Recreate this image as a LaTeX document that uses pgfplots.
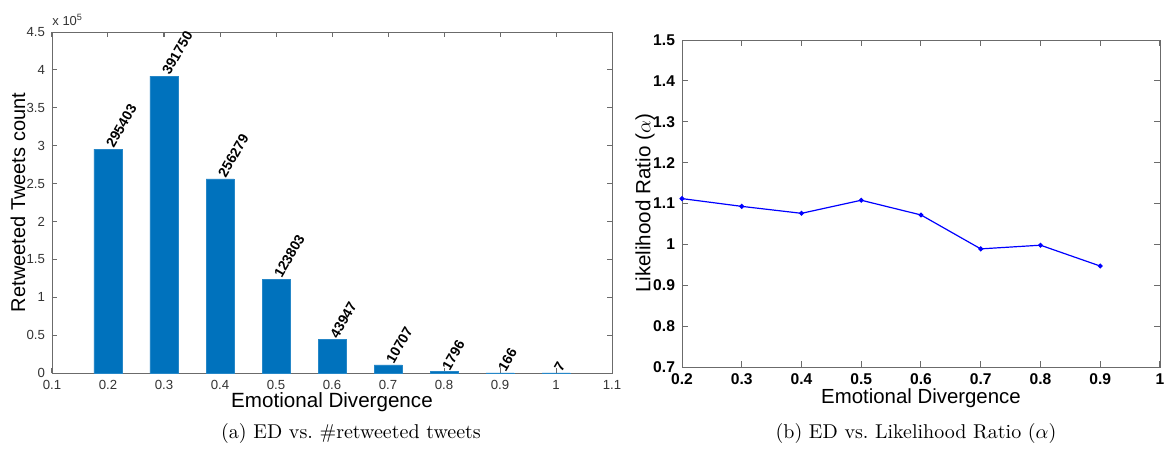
\documentclass[border=0pt]{standalone}
\usepackage{fontspec}
\usepackage{pgfplots}
\pgfplotsset{compat=1.18}
\newfontfamily\arial{Liberation Sans}
\definecolor{mbar}{rgb}{0,0.447,0.741}
\definecolor{axgray}{gray}{0.42}
\pgfplotstableread{
x y lab
0.2 295403 295403
0.3 391750 391750
0.4 256279 256279
0.5 123803 123803
0.6 43947 43947
0.7 10707 10707
0.8 1796 1796
0.9 166 166
1.0 7 7
}\bardata
\pgfplotstableread{
x y
0.2 1.112
0.3 1.093
0.4 1.076
0.5 1.108
0.6 1.072
0.7 0.989
0.8 0.998
0.9 0.947
}\ratiodata
\pgfplotsset{
  mystyle/.style={
    scale only axis,
    axis line style={axgray},
    tick style={axgray, line width=0.5pt},
    major tick length=2.5pt,
    tick align=inside,
    /pgf/number format/assume math mode=true,
    clip=false,
  }
}
\begin{document}
\begin{tikzpicture}[x=1pt,y=1pt]
\path[use as bounding box] (0,0) rectangle (582,-224.5);
\begin{axis}[
  mystyle,
  at={(26pt,-186.5pt)}, anchor=south west,
  width=280pt, height=170.5pt,
  xmin=0.1, xmax=1.1, ymin=0, ymax=450000,
  xtick={0.1,0.2,0.3,0.4,0.5,0.6,0.7,0.8,0.9,1,1.1},
  ytick={0,50000,100000,150000,200000,250000,300000,350000,400000,450000},
  scaled y ticks=base 10:-5,
  ytick scale label code/.code={{\arial\fontsize{6.5}{8}\selectfont x 10\textsuperscript{5}}},
  every y tick scale label/.style={at={(rel axis cs:0,1)}, anchor=south west, inner sep=0pt, yshift=3pt},
  ticklabel style={font=\arial\fontsize{6.6}{8}\selectfont, text=black!80},
  xlabel={Emotional Divergence},
  ylabel={Retweeted Tweets count},
  every axis x label/.style={at={(axis description cs:0.5,-0.085)}, anchor=center, font=\arial\fontsize{10.3}{12}\selectfont},
  every axis y label/.style={at={(axis description cs:-0.0607,0.5)}, anchor=center, rotate=90, font=\arial\fontsize{10}{12}\selectfont},
]
\addplot[ybar, bar width=0.05, fill=mbar, draw=mbar!85!white, line width=0.3pt,
  point meta=explicit symbolic,
  nodes near coords,
  every node near coord/.append style={rotate=60, anchor=west, inner sep=1.5pt,
     font=\arial\bfseries\fontsize{7}{8}\selectfont, text=black}]
  table[x=x, y=y, meta=lab] {\bardata};
\end{axis}
\begin{axis}[
  mystyle,
  at={(341pt,-183.5pt)}, anchor=south west,
  width=239pt, height=163.5pt,
  xmin=0.2, xmax=1.0, ymin=0.7, ymax=1.5,
  xtick={0.2,0.3,0.4,0.5,0.6,0.7,0.8,0.9,1},
  ytick={0.7,0.8,0.9,1,1.1,1.2,1.3,1.4,1.5},
  major tick length=3pt,
  ticklabel style={font=\arial\bfseries\fontsize{7.8}{9}\selectfont, text=black},
  xlabel={Emotional Divergence},
  ylabel={Likelihood Ratio ($\alpha$)},
  every axis x label/.style={at={(axis description cs:0.5,-0.095)}, anchor=center, font=\arial\fontsize{10.2}{12}\selectfont},
  every axis y label/.style={at={(axis description cs:-0.0774,0.5)}, anchor=center, rotate=90, font=\arial\fontsize{10.3}{12}\selectfont},
]
\addplot[blue, line width=0.6pt, mark=*, mark size=0.9pt] table[x=x, y=y] {\ratiodata};
\end{axis}
\node at (175.5,-216.5) {(a) ED vs.\ \#retweeted tweets};
\node at (458,-216.5) {(b) ED vs.\ Likelihood Ratio ($\alpha$)};
\end{tikzpicture}
\end{document}
